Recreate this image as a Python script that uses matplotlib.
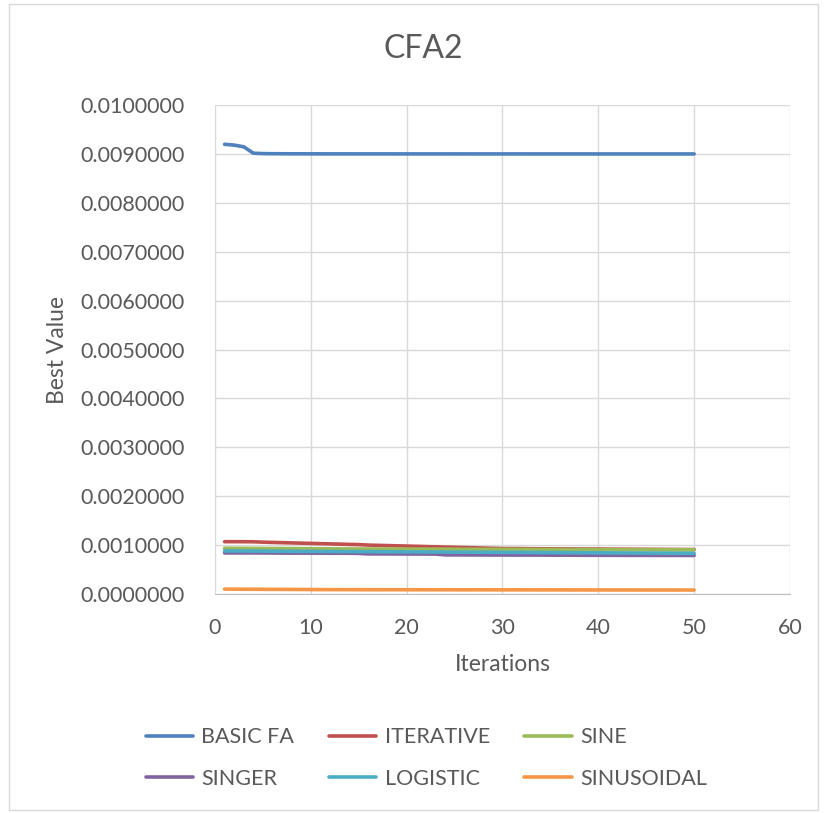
import numpy as np
import matplotlib.pyplot as plt
from matplotlib.patches import Rectangle

# iterations 1..50
iterations = list(range(1, 51))

basic_fa = [0.0091960, 0.0091800, 0.0091450, 0.0090150, 0.0090060, 0.0090040, 0.0090030, 0.0090020, 0.0090015, 0.0090010,
            0.0090008, 0.0090006, 0.0090005, 0.0090004, 0.0090003, 0.0090002, 0.0090001, 0.0090000, 0.0090000, 0.0089999,
            0.0089998, 0.0089998, 0.0089997, 0.0089997, 0.0089996, 0.0089996, 0.0089995, 0.0089995, 0.0089995, 0.0089994,
            0.0089994, 0.0089994, 0.0089993, 0.0089993, 0.0089993, 0.0089992, 0.0089992, 0.0089992, 0.0089991, 0.0089991,
            0.0089991, 0.0089990, 0.0089990, 0.0089990, 0.0089990, 0.0089989, 0.0089989, 0.0089989, 0.0089988, 0.0089988]
iterative = [0.0010700, 0.0010700, 0.0010690, 0.0010680, 0.0010600, 0.0010550, 0.0010500, 0.0010450, 0.0010400, 0.0010350,
             0.0010300, 0.0010250, 0.0010200, 0.0010150, 0.0010100, 0.0010000, 0.0009950, 0.0009900, 0.0009850, 0.0009800,
             0.0009750, 0.0009700, 0.0009650, 0.0009600, 0.0009550, 0.0009500, 0.0009450, 0.0009400, 0.0009350, 0.0009300,
             0.0009300, 0.0009280, 0.0009260, 0.0009250, 0.0009240, 0.0009230, 0.0009220, 0.0009210, 0.0009200, 0.0009200,
             0.0009180, 0.0009170, 0.0009160, 0.0009150, 0.0009140, 0.0009130, 0.0009120, 0.0009110, 0.0009100, 0.0009100]
sine = [0.0009350, 0.0009340, 0.0009330, 0.0009320, 0.0009310, 0.0009300, 0.0009290, 0.0009280, 0.0009270, 0.0009260,
        0.0009250, 0.0009240, 0.0009230, 0.0009220, 0.0009210, 0.0009200, 0.0009200, 0.0009190, 0.0009190, 0.0009180,
        0.0009180, 0.0009170, 0.0009170, 0.0009160, 0.0009160, 0.0009150, 0.0009150, 0.0009140, 0.0009140, 0.0009130,
        0.0009130, 0.0009120, 0.0009120, 0.0009110, 0.0009110, 0.0009100, 0.0009100, 0.0009090, 0.0009090, 0.0009080,
        0.0009080, 0.0009070, 0.0009070, 0.0009060, 0.0009060, 0.0009050, 0.0009050, 0.0009040, 0.0009040, 0.0009030]
singer = [0.0008400, 0.0008400, 0.0008400, 0.0008400, 0.0008390, 0.0008380, 0.0008370, 0.0008360, 0.0008360, 0.0008350,
          0.0008350, 0.0008340, 0.0008340, 0.0008330, 0.0008300, 0.0008200, 0.0008200, 0.0008190, 0.0008190, 0.0008180,
          0.0008180, 0.0008170, 0.0008170, 0.0008000, 0.0007990, 0.0007990, 0.0007980, 0.0007980, 0.0007970, 0.0007970,
          0.0007960, 0.0007960, 0.0007950, 0.0007950, 0.0007940, 0.0007940, 0.0007930, 0.0007930, 0.0007920, 0.0007920,
          0.0007910, 0.0007910, 0.0007900, 0.0007900, 0.0007900, 0.0007890, 0.0007890, 0.0007890, 0.0007880, 0.0007880]
logistic = [0.0008800, 0.0008800, 0.0008790, 0.0008780, 0.0008770, 0.0008760, 0.0008750, 0.0008740, 0.0008730, 0.0008720,
            0.0008710, 0.0008700, 0.0008690, 0.0008680, 0.0008670, 0.0008660, 0.0008650, 0.0008640, 0.0008630, 0.0008620,
            0.0008610, 0.0008600, 0.0008590, 0.0008580, 0.0008570, 0.0008560, 0.0008550, 0.0008540, 0.0008530, 0.0008520,
            0.0008510, 0.0008500, 0.0008490, 0.0008480, 0.0008470, 0.0008460, 0.0008450, 0.0008440, 0.0008430, 0.0008420,
            0.0008410, 0.0008400, 0.0008390, 0.0008380, 0.0008370, 0.0008360, 0.0008350, 0.0008340, 0.0008330, 0.0008320]
sinusoidal = [0.0001000, 0.0000990, 0.0000980, 0.0000970, 0.0000960, 0.0000950, 0.0000940, 0.0000930, 0.0000920, 0.0000910,
              0.0000900, 0.0000895, 0.0000890, 0.0000885, 0.0000880, 0.0000878, 0.0000876, 0.0000874, 0.0000872, 0.0000870,
              0.0000868, 0.0000866, 0.0000864, 0.0000862, 0.0000860, 0.0000858, 0.0000856, 0.0000854, 0.0000852, 0.0000850,
              0.0000848, 0.0000846, 0.0000844, 0.0000842, 0.0000840, 0.0000838, 0.0000836, 0.0000834, 0.0000832, 0.0000830,
              0.0000828, 0.0000826, 0.0000824, 0.0000822, 0.0000820, 0.0000818, 0.0000816, 0.0000814, 0.0000812, 0.0000810]

names = ['BASIC FA', 'ITERATIVE', 'SINE', 'SINGER', 'LOGISTIC', 'SINUSOIDAL']
series = [basic_fa, iterative, sine, singer, logistic, sinusoidal]
colors = ['#4F81BD', '#C0504D', '#9BBB59', '#8064A2', '#4BACC6', '#F79646']

txt = '#595959'
plt.rcParams['font.family'] = ['Lato', 'DejaVu Sans']

fig = plt.figure(figsize=(8.28, 8.13), dpi=100)
fig.patches.append(Rectangle((9 / 828, 3 / 813), 809 / 828, 806 / 813, transform=fig.transFigure,
                             fill=False, edgecolor='#d9d9d9', lw=1))
ax = fig.add_axes([215 / 828, 1 - 594 / 813, 575 / 828, 489 / 813])

handles = []
for s, n, c in zip(series, names, colors):
    h, = ax.plot(iterations, s, color=c, lw=2.6, label=n, solid_capstyle='round')
    handles.append(h)

ax.set_xlim(0, 60)
ax.set_ylim(0, 0.01)
ax.set_xticks(np.arange(0, 61, 10))
ax.set_yticks(np.arange(0, 0.0101, 0.001))
ax.set_yticklabels(['%.7f' % v for v in np.arange(0, 0.0101, 0.001)])
ax.grid(True, color='#d9d9d9', lw=1)
ax.set_axisbelow(True)
for sp in ['top', 'right', 'left']:
    ax.spines[sp].set_visible(False)
ax.spines['bottom'].set_color('#bfbfbf')
ax.tick_params(axis='both', length=0, labelsize=15.5, colors=txt)
ax.tick_params(axis='x', pad=17)
ax.tick_params(axis='y', pad=22)

ax.set_xlabel('Iterations', fontsize=16.5, color=txt, labelpad=12)
ax.set_ylabel('Best Value', fontsize=16.5, color=txt, labelpad=9)
fig.text(0.511, 1 - 49 / 813, 'CFA2', ha='center', va='center', fontsize=23, color=txt)

# legend is filled row by row in the original
order = [0, 3, 1, 4, 2, 5]
fig.legend([handles[i] for i in order], [names[i] for i in order],
           loc='center', bbox_to_anchor=(0.515, 1 - 758 / 813), ncol=3, frameon=False,
           fontsize=15.5, labelcolor=txt, handlelength=2.2, columnspacing=1.6, labelspacing=1.0,
           handletextpad=0.4)

fig.savefig('out.png', dpi=100)
